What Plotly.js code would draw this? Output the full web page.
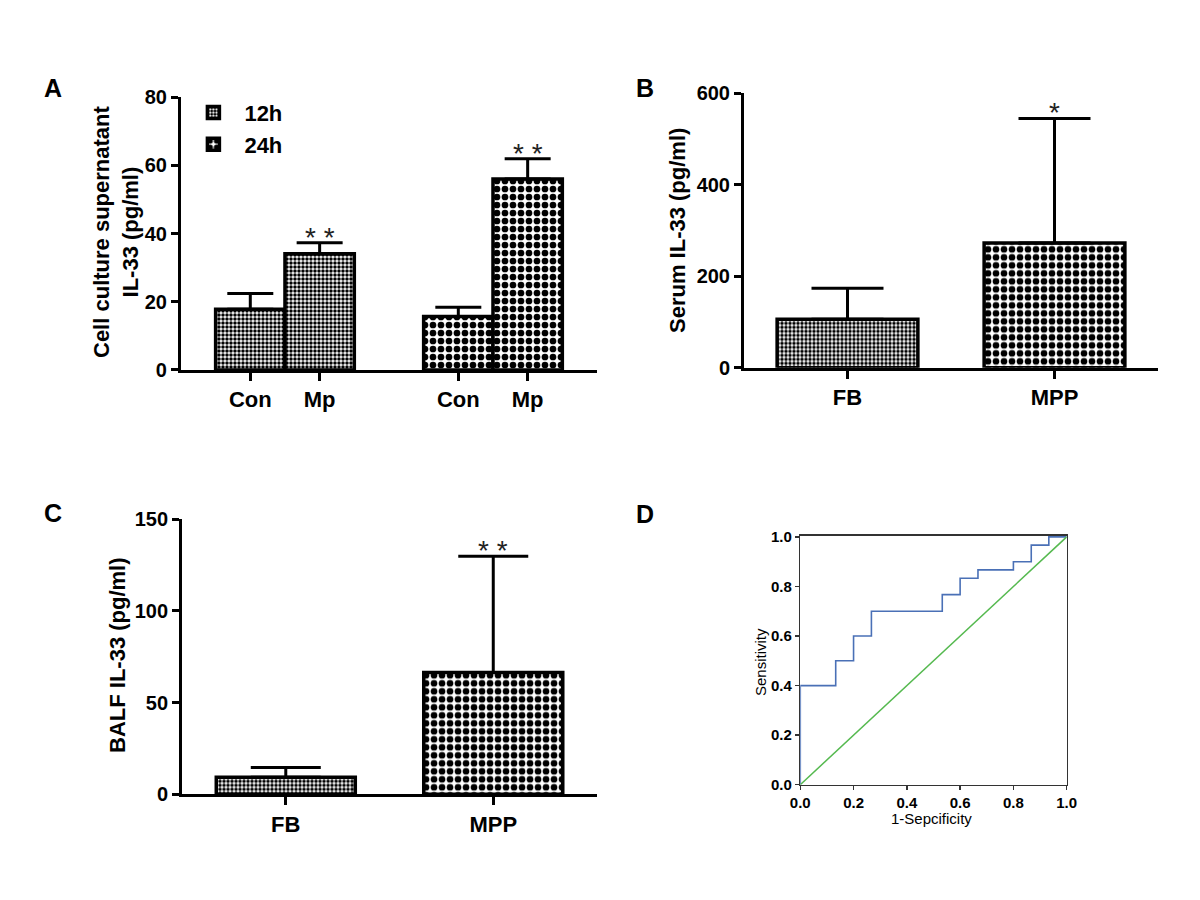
<!DOCTYPE html>
<html>
<head>
<meta charset="utf-8">
<script src="https://cdn.plot.ly/plotly-3.0.1.min.js"></script>
<style>html,body{margin:0;padding:0;background:#fff}</style>
</head>
<body>
<div id="chart" style="width:1200px;height:900px"></div>
<script>
const FONT = 'Arial, "Liberation Sans", Helvetica, sans-serif';

// --- data ---
// A: cell culture supernatant IL-33 (pg/ml)
const groupLabels = ['Con', 'Mp'];
const timeLabels = ['12h', '24h'];
const culture12Mean = [17.8, 34.1];
const culture12Sd = [4.6, 3.2];
const culture24Mean = [15.7, 56.0];
const culture24Sd = [2.7, 5.9];
const culture12Stars = ['', '* *'];
const culture24Stars = ['', '* *'];

// B: serum IL-33, C: BALF IL-33
const patientGroups = ['FB', 'MPP'];
const serumMean = [106, 273];
const serumSd = [68, 272];
const serumStars = ['', '*'];
const balfMean = [9.3, 66.5];
const balfSd = [5.4, 63.3];
const balfStars = ['', '* *'];

// D: ROC curve
const rocFpr = [0, 0, 0.133, 0.2, 0.267, 0.533, 0.6, 0.667, 0.8, 0.867, 0.933, 1];
const rocTpr = [0, 0.4, 0.5, 0.6, 0.7, 0.767, 0.833, 0.867, 0.9, 0.967, 1.0, 1.0];
const refLine = [0, 1];

// --- styles ---
const fine = {shape: '.', fgcolor: '#000', bgcolor: '#fff', size: 4, solidity: 0.6};
const coarse = {shape: '.', fgcolor: '#000', bgcolor: '#fff', size: 8, solidity: 0.55};

function bars(name, x, y, sd, pattern, ax, width, cap, legend) {
    return {
        type: 'bar', name: name, x: x, y: y, width: width,
        xaxis: 'x' + ax, yaxis: 'y' + ax, showlegend: !!legend,
        marker: {color: '#fff', pattern: pattern, line: {color: '#000', width: 3.5}},
        error_y: {type: 'data', symmetric: false, array: sd, arrayminus: sd.map(() => 0),
                  color: '#000', thickness: 3, width: cap},
        hoverinfo: 'x+y'
    };
}

// group position: Con/Mp side by side, one empty slot between time points
const xpos = g => groupLabels.map((_, i) => g * (groupLabels.length + 1) + i);
const x12 = xpos(0), x24 = xpos(1);

const traces = [
    bars(timeLabels[0], x12, culture12Mean, culture12Sd, fine, '', 1, 23, true),
    bars(timeLabels[1], x24, culture24Mean, culture24Sd, coarse, '', 1, 23, true),
    bars('FB', [0], [serumMean[0]], [serumSd[0]], fine, '2', 0.68, 36),
    bars('MPP', [1], [serumMean[1]], [serumSd[1]], coarse, '2', 0.68, 36),
    bars('FB', [0], [balfMean[0]], [balfSd[0]], fine, '3', 0.67, 35),
    bars('MPP', [1], [balfMean[1]], [balfSd[1]], coarse, '3', 0.67, 35),
    {x: rocFpr, y: rocTpr, xaxis: 'x4', yaxis: 'y4', mode: 'lines', showlegend: false,
     line: {color: '#4a70b6', width: 1.6, shape: 'hv'}},
    {x: refLine, y: refLine, xaxis: 'x4', yaxis: 'y4', mode: 'lines', showlegend: false,
     line: {color: '#55b94f', width: 1.5}}
];

// significance stars above the error caps
const annotations = [];
function stars(labels, x, mean, sd, ax) {
    labels.forEach((s, i) => {
        if (!s) return;
        annotations.push({xref: 'x' + ax, yref: 'y' + ax, x: x[i], y: mean[i] + sd[i], text: s,
            showarrow: false, yanchor: 'bottom', yshift: -12,
            font: {family: FONT, size: 28, color: '#222'}});
    });
}
stars(culture12Stars, x12, culture12Mean, culture12Sd, '');
stars(culture24Stars, x24, culture24Mean, culture24Sd, '');
stars(serumStars, [0, 1], serumMean, serumSd, '2');
stars(balfStars, [0, 1], balfMean, balfSd, '3');

function paperText(text, px, py, size, weight, angle) {
    annotations.push({xref: 'paper', yref: 'paper', x: px / 1200, y: 1 - py / 900, text: text,
        showarrow: false, xanchor: 'center', yanchor: 'middle', textangle: angle || 0,
        font: {family: FONT, size: size, color: '#000', weight: weight}});
}
paperText('A', 53, 88, 25, 'bold');
paperText('B', 645, 88, 25, 'bold');
paperText('C', 53, 513, 25, 'bold');
paperText('D', 645, 514, 25, 'bold');
paperText('Cell culture supernatant<br>IL-33 (pg/ml)', 116, 232, 22, 'bold', -90);
paperText('Serum IL-33 (pg/ml)', 678, 230, 22, 'bold', -90);
paperText('BALF IL-33 (pg/ml)', 117, 655, 22, 'bold', -90);
paperText('Sensitivity', 760, 662, 15, 'normal', -90);
paperText('1-Sepcificity', 931, 818, 15, 'normal');

const barX = (domain, range, vals, text) => ({
    domain: domain, range: range, showgrid: false, zeroline: false, fixedrange: true,
    showline: true, linecolor: '#000', linewidth: 3,
    ticks: 'outside', ticklen: 8, tickwidth: 3, tickcolor: '#000',
    tickvals: vals, ticktext: text,
    tickfont: {family: FONT, size: 22, color: '#000', weight: 'bold'}
});
const barY = (domain, range, dtick) => ({
    domain: domain, range: range, dtick: dtick, showgrid: false, zeroline: false,
    showline: true, linecolor: '#000', linewidth: 3,
    ticks: 'outside', ticklen: 7, tickwidth: 3, tickcolor: '#000',
    tickfont: {family: FONT, size: 20, color: '#000', weight: 'bold'}
});
const rocAxis = (domain) => ({
    domain: domain, range: [0, 1.005], dtick: 0.2, tickformat: '.1f',
    showgrid: false, zeroline: false, mirror: true,
    showline: true, linecolor: '#333', linewidth: 1.5,
    ticks: 'outside', ticklen: 4, tickwidth: 1.5, tickcolor: '#333',
    tickfont: {family: FONT, size: 15, color: '#000', weight: 'bold'}
});

const cultureTickText = timeLabels.flatMap(() => groupLabels);

const layout = {
    width: 1200, height: 900,
    margin: {l: 0, r: 0, t: 0, b: 0},
    paper_bgcolor: '#fff', plot_bgcolor: 'rgba(0,0,0,0)',
    barmode: 'overlay', bargap: 0,
    font: {family: FONT},
    showlegend: true,
    legend: {x: 0.152, y: 0.898, xanchor: 'left', yanchor: 'top', bgcolor: 'rgba(0,0,0,0)',
             font: {family: FONT, size: 22, color: '#000', weight: 'bold'},
             itemwidth: 52, traceorder: 'normal'},
    xaxis: barX([0.1508, 0.4975], [-1, 5], x12.concat(x24), cultureTickText),
    yaxis: barY([0.5889, 0.8922], [0, 80], 20),
    xaxis2: Object.assign(barX([0.62, 0.965], [-0.5, 1.5], [0, 1], patientGroups), {anchor: 'y2'}),
    yaxis2: Object.assign(barY([0.5914, 0.8963], [0, 600], 200), {anchor: 'x2'}),
    xaxis3: Object.assign(barX([0.1517, 0.4975], [-0.5, 1.5], [0, 1], patientGroups), {anchor: 'y3'}),
    yaxis3: Object.assign(barY([0.1174, 0.423], [0, 150], 50), {anchor: 'x3'}),
    xaxis4: Object.assign(rocAxis([0.6669, 0.8889]), {anchor: 'y4', range: [0, 1]}),
    yaxis4: Object.assign(rocAxis([0.1281, 0.4048]), {anchor: 'x4'}),
    annotations: annotations
};

Plotly.newPlot('chart', traces, layout, {displayModeBar: false, staticPlot: true});
</script>
</body>
</html>
